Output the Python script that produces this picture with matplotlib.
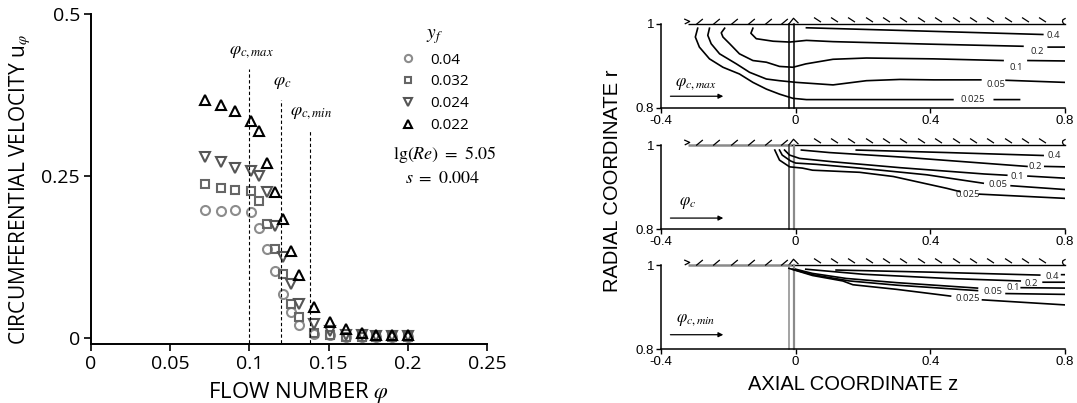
import matplotlib
matplotlib.use('Agg')
import matplotlib.pyplot as plt
import numpy as np
from matplotlib.path import Path

plt.rcParams['mathtext.fontset'] = 'stix'
plt.rcParams['font.family'] = ['Open Sans', 'DejaVu Sans']
nan = np.nan

# ---------------- left panel data ----------------
phi = [0.072, 0.082, 0.091, 0.101, 0.106, 0.111, 0.116, 0.121, 0.126, 0.131,
       0.141, 0.151, 0.161, 0.171, 0.180, 0.190, 0.200]
u_yf_004 = [0.197, 0.196, 0.197, 0.194, 0.170, 0.137, 0.104, 0.068, 0.040, 0.020,
            0.006, 0.004, 0.002, 0.002, 0.002, 0.002, 0.002]
u_yf_0032 = [0.238, 0.232, 0.228, 0.227, 0.211, 0.176, 0.138, 0.099, 0.052, 0.033,
             0.008, 0.004, 0.002, 0.002, 0.002, 0.002, 0.002]
u_yf_0024 = [0.280, 0.272, 0.263, 0.257, 0.250, 0.225, 0.173, 0.125, 0.083, 0.052,
             0.022, 0.011, 0.005, 0.004, 0.003, 0.003, 0.003]
u_yf_0022 = [0.368, 0.360, 0.350, 0.335, 0.320, 0.270, 0.225, 0.183, 0.135, 0.097,
             0.048, 0.024, 0.014, 0.007, 0.005, 0.005, 0.005]
yf_labels = ['0.04', '0.032', '0.024', '0.022']
phi_crit = [0.100, 0.120, 0.138]
phi_crit_top = [0.415, 0.367, 0.320]
phi_crit_names = [r'$\varphi_{c,max}$', r'$\varphi_c$', r'$\varphi_{c,min}$']
x_ticks = [0, 0.05, 0.1, 0.15, 0.2, 0.25]
x_ticklabels = ['0', '0.05', '0.1', '0.15', '0.2', '0.25']
y_ticks = [0, 0.25, 0.5]
y_ticklabels = ['0', '0.25', '0.5']

# ---------------- right panel data (contour lines, nan = gap for label) ----------------
levels = ['0.4', '0.2', '0.1', '0.05', '0.025']

top_04_z = [0.032, 0.30, 0.734]
top_04_r = [0.991, 0.985, 0.975]
top_02_z = [-0.127, -0.133, -0.117, -0.067, -0.018, 0.032, 0.111, 0.40, 0.675, nan, 0.75, 0.80]
top_02_r = [0.990, 0.978, 0.965, 0.959, 0.957, 0.961, 0.958, 0.952, 0.947, nan, 0.945, 0.945]
top_01_z = [-0.211, -0.221, -0.216, -0.196, -0.167, -0.127, -0.087, -0.048, -0.008, 0.03,
            0.111, 0.21, 0.41, 0.616, nan, 0.69, 0.80]
top_01_r = [0.990, 0.979, 0.969, 0.953, 0.929, 0.913, 0.909, 0.899, 0.897, 0.905,
            0.916, 0.919, 0.917, 0.913, nan, 0.913, 0.912]
top_005_z = [-0.256, -0.261, -0.251, -0.226, -0.176, -0.137, -0.087, -0.048, 0.002, 0.111,
             0.21, 0.31, 0.41, 0.55, nan, 0.625, 0.80]
top_005_r = [0.990, 0.973, 0.953, 0.929, 0.905, 0.885, 0.869, 0.865, 0.861, 0.855,
             0.865, 0.868, 0.867, 0.867, nan, 0.866, 0.861]
top_0025_z = [-0.291, -0.298, -0.286, -0.256, -0.216, -0.167, -0.127, -0.087, -0.048, -0.008,
              0.032, 0.20, 0.467, nan, 0.59, 0.665]
top_0025_r = [0.990, 0.969, 0.945, 0.917, 0.897, 0.881, 0.861, 0.845, 0.833, 0.823,
              0.820, 0.820, 0.820, nan, 0.820, 0.820]
top_label_z = [0.766, 0.718, 0.655, 0.596, 0.527]
top_label_r = [0.972, 0.935, 0.897, 0.857, 0.820]

mid_04_z = [0.18, 0.45, 0.735]
mid_04_r = [0.988, 0.982, 0.975]
mid_02_z = [0.017, 0.10, 0.32, 0.687, nan, 0.74, 0.80]
mid_02_r = [0.988, 0.982, 0.971, 0.949, nan, 0.949, 0.948]
mid_01_z = [-0.033, -0.018, 0.012, 0.111, 0.31, 0.56, 0.627, nan, 0.69, 0.80]
mid_01_r = [0.988, 0.976, 0.968, 0.960, 0.946, 0.931, 0.928, nan, 0.926, 0.921]
mid_005_z = [-0.048, -0.040, -0.015, 0.0, 0.06, 0.19, 0.39, 0.557, nan, 0.64, 0.80]
mid_005_r = [0.988, 0.976, 0.962, 0.957, 0.954, 0.945, 0.929, 0.909, nan, 0.903, 0.894]
mid_0025_z = [-0.062, -0.048, -0.018, 0.02, 0.05, 0.19, 0.29, 0.448, 0.488, nan, 0.545, 0.80]
mid_0025_r = [0.988, 0.964, 0.948, 0.945, 0.940, 0.935, 0.925, 0.897, 0.889, nan, 0.883, 0.873]
mid_label_z = [0.768, 0.711, 0.657, 0.600, 0.512]
mid_label_r = [0.975, 0.949, 0.926, 0.905, 0.883]

bot_04_z = [0.12, 0.40, 0.725, nan, 0.79, 0.80]
bot_04_r = [0.988, 0.983, 0.976, nan, 0.977, 0.977]
bot_02_z = [0.03, 0.20, 0.45, 0.667, nan, 0.735, 0.80]
bot_02_r = [0.990, 0.978, 0.968, 0.962, nan, 0.959, 0.959]
bot_01_z = [0.0, 0.05, 0.15, 0.30, 0.54, nan, 0.67, 0.80]
bot_01_r = [0.990, 0.980, 0.968, 0.958, 0.945, nan, 0.946, 0.945]
bot_005_z = [-0.01, 0.05, 0.16, 0.30, 0.54, nan, 0.625, 0.80]
bot_005_r = [0.990, 0.977, 0.962, 0.952, 0.939, nan, 0.932, 0.930]
bot_0025_z = [-0.02, 0.05, 0.14, 0.17, 0.30, 0.46, nan, 0.555, 0.80]
bot_0025_r = [0.992, 0.975, 0.962, 0.953, 0.942, 0.926, nan, 0.917, 0.905]
bot_label_z = [0.761, 0.700, 0.646, 0.587, 0.512]
bot_label_r = [0.972, 0.957, 0.946, 0.938, 0.921]

z_ticks = [-0.4, 0, 0.4, 0.8]
z_ticklabels = ['-0.4', '0', '0.4', '0.8']
r_ticks = [0.8, 1.0]
r_ticklabels = ['0.8', '1']

# ---------------- figure ----------------
W, H = 1077, 403
fig = plt.figure(figsize=(W / 100, H / 100), dpi=100)


def rect(x0, y_top, x1, y_bot):
    return [x0 / W, 1 - y_bot / H, (x1 - x0) / W, (y_bot - y_top) / H]


axL = fig.add_axes(rect(91, 14, 487, 344))
axL.set_xlim(0, 0.25)
axL.set_ylim(-0.00926, 0.5)
for s in ['top', 'right']:
    axL.spines[s].set_visible(False)
for s in ['left', 'bottom']:
    axL.spines[s].set_linewidth(1.4)
axL.set_xticks(x_ticks)
axL.set_xticklabels(x_ticklabels)
axL.set_yticks(y_ticks)
axL.set_yticklabels(y_ticklabels)
axL.tick_params(direction='out', length=5, width=1.2, labelsize=14, pad=3)

styles = [('o', '#8c8c8c', 6.5), ('s', '#666666', 6.0), ('v', '#555555', 7.5), ('^', '#000000', 7.5)]
for u, lab, (m, c, ms) in zip([u_yf_004, u_yf_0032, u_yf_0024, u_yf_0022], yf_labels, styles):
    axL.plot(phi, u, ls='none', marker=m, ms=ms, mfc='none', mec=c, mew=1.5,
             label=lab, clip_on=False)

for xc, yt, name in zip(phi_crit, phi_crit_top, phi_crit_names):
    axL.plot([xc, xc], [-0.008, yt], color='black', lw=0.8, ls=(0, (3, 2.2)))
    axL.text(xc + 0.001, yt + 0.028, name, ha='center', va='center', fontsize=13)

leg = axL.legend(title=r'$y_f$', frameon=False, loc='upper left',
                 bbox_to_anchor=(400 / W, 1 - 24 / H), bbox_transform=fig.transFigure,
                 fontsize=11, title_fontsize=14, handletextpad=1.0, labelspacing=0.45,
                 handlelength=1.0, borderpad=0, borderaxespad=0, markerscale=0.8, numpoints=1)
fig.text(393 / W, 1 - 154 / H, r'$\mathrm{lg}(Re)\ =\ 5.05$', va='center', ha='left', fontsize=13)
fig.text(405 / W, 1 - 178 / H, r'$s\ =\ 0.004$', va='center', ha='left', fontsize=13)

fig.text(20 / W, 1 - 190 / H, r'CIRCUMFERENTIAL VELOCITY u$_{\varphi}$', rotation=90,
         ha='center', va='center', fontsize=15)
fig.text(299 / W, 1 - 398 / H, r'FLOW NUMBER $\varphi$', ha='center', va='baseline', fontsize=16)

# ---------------- right panels ----------------
arial = ['Liberation Sans', 'DejaVu Sans']
panels = [
    dict(rect=rect(661, 24, 1065, 108), name=r'$\varphi_{c,max}$', name_pos=(-0.296, 0.857), arrow_r=0.828,
         lines=[(top_04_z, top_04_r), (top_02_z, top_02_r), (top_01_z, top_01_r),
                (top_005_z, top_005_r), (top_0025_z, top_0025_r)],
         lz=top_label_z, lr=top_label_r, wall_left='#000000', wall_lw=1.0, sep=['#000000', '#000000']),
    dict(rect=rect(661, 145, 1065, 229), name=r'$\varphi_c$', name_pos=(-0.320, 0.862), arrow_r=0.826,
         lines=[(mid_04_z, mid_04_r), (mid_02_z, mid_02_r), (mid_01_z, mid_01_r),
                (mid_005_z, mid_005_r), (mid_0025_z, mid_0025_r)],
         lz=mid_label_z, lr=mid_label_r, wall_left='#8a8a8a', wall_lw=1.8, sep=['#333333', '#8a8a8a']),
    dict(rect=rect(661, 265, 1065, 349), name=r'$\varphi_{c,min}$', name_pos=(-0.296, 0.870), arrow_r=0.834,
         lines=[(bot_04_z, bot_04_r), (bot_02_z, bot_02_r), (bot_01_z, bot_01_r),
                (bot_005_z, bot_005_r), (bot_0025_z, bot_0025_r)],
         lz=bot_label_z, lr=bot_label_r, wall_left='#8a8a8a', wall_lw=1.8, sep=['#8a8a8a', '#8a8a8a']),
]

hatch_fwd = Path([(-0.6, 0.0), (0.6, 1.0)])
hatch_back = Path([(-0.5, 1.0), (0.5, 0.35)])
apex = Path([(-0.8, 0.0), (0.0, 1.0), (0.8, 0.2)])
left_end = Path([(-0.6, 1.0), (0.4, 0.55), (-0.5, 0.1)])
right_end = Path([(0.5, 1.0), (0.05, 0.75), (0.0, 0.45), (0.15, 0.15), (0.4, 0.0)])

for p in panels:
    ax = fig.add_axes(p['rect'])
    ax.set_xlim(-0.4, 0.8)
    ax.set_ylim(0.8, 1.0)
    for s in ['top', 'right']:
        ax.spines[s].set_visible(False)
    for s in ['left', 'bottom']:
        ax.spines[s].set_linewidth(1.1)
    ax.set_xticks(z_ticks)
    ax.set_xticklabels(z_ticklabels, family=arial)
    ax.set_yticks(r_ticks)
    ax.set_yticklabels(r_ticklabels, family=arial)
    ax.tick_params(direction='out', length=3.5, width=1.0, labelsize=9.5, pad=1.5)

    # wall
    ax.plot([-0.32, -0.01], [1.0, 1.0], color=p['wall_left'], lw=p['wall_lw'], clip_on=False,
            solid_capstyle='butt')
    ax.plot([-0.01, 0.8], [1.0, 1.0], color='black', lw=1.0, clip_on=False)
    ax.plot([-0.286, -0.236, -0.184, -0.133, -0.083, -0.035], [1.0] * 6, ls='none',
            marker=hatch_fwd, ms=8, mfc='none', mec='black', mew=0.9, clip_on=False)
    zb = [0.062 + 0.0516 * i for i in range(14)]
    ax.plot(zb, [1.0] * len(zb), ls='none', marker=hatch_back, ms=10, mfc='none',
            mec='black', mew=0.9, clip_on=False)
    ax.plot([-0.008], [1.0], ls='none', marker=apex, ms=9, mfc='none', mec='black', mew=0.9, clip_on=False)
    ax.plot([-0.322], [1.0], ls='none', marker=left_end, ms=8, mfc='none', mec='black', mew=0.9, clip_on=False)
    ax.plot([0.79], [1.0], ls='none', marker=right_end, ms=9, mfc='none', mec='black', mew=0.9, clip_on=False)
    # separator (double line)
    ax.plot([-0.021, -0.021], [0.8, 1.0], color=p['sep'][0], lw=1.1, clip_on=False)
    ax.plot([-0.004, -0.004], [0.8, 1.0], color=p['sep'][1], lw=1.6 if p['sep'][1] != '#000000' else 1.1,
            clip_on=False)

    for (zz, rr), lev, lz, lr in zip(p['lines'], levels, p['lz'], p['lr']):
        ax.plot(zz, rr, color='black', lw=1.2)
        ax.text(lz, lr, lev, ha='center', va='center', fontsize=6.8, color='#222222')

    ax.annotate('', xy=(-0.215, p['arrow_r']), xytext=(-0.372, p['arrow_r']),
                arrowprops=dict(arrowstyle='-|>', lw=0.9, color='black', mutation_scale=7,
                                shrinkA=0, shrinkB=0))
    ax.text(p['name_pos'][0], p['name_pos'][1], p['name'], ha='center', va='center', fontsize=12)

fig.text(613 / W, 1 - 181 / H, 'RADIAL COORDINATE r', rotation=90, ha='center', va='center',
         fontsize=14.5, family=arial)
fig.text(853 / W, 1 - 384 / H, 'AXIAL COORDINATE z', ha='center', va='center',
         fontsize=14.5, family=arial)

fig.savefig('out.png', dpi=100)
